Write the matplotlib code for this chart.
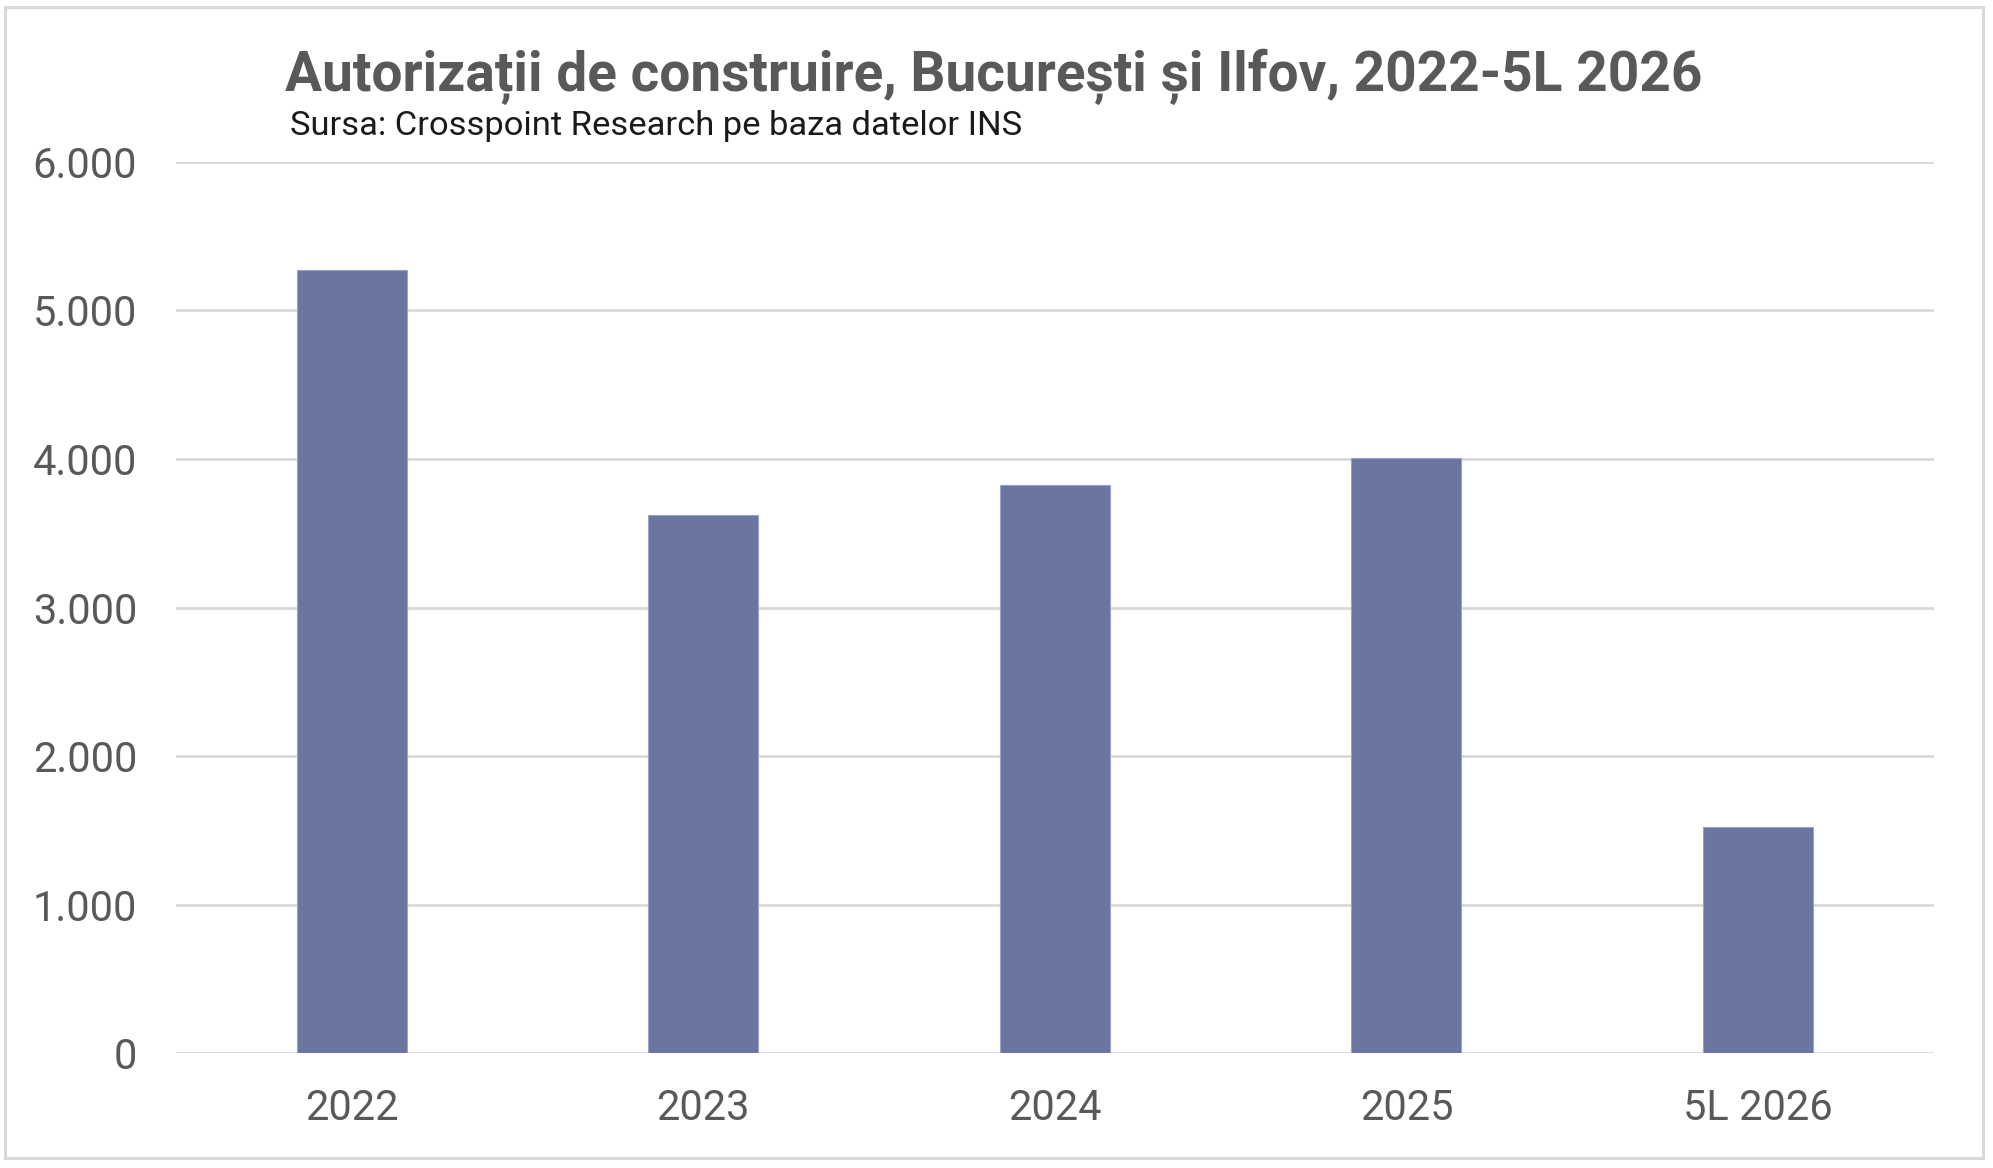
import matplotlib
matplotlib.use("Agg")
import matplotlib.pyplot as plt
from matplotlib.ticker import FuncFormatter, MultipleLocator
from matplotlib.patches import Rectangle

# data
categories = ["2022", "2023", "2024", "2025", "5L 2026"]
permits = [5272, 3625, 3827, 4007, 1524]

title = "Autorizații de construire, București și Ilfov, 2022-5L 2026"
subtitle = "Sursa: Crosspoint Research pe baza datelor INS"

BAR_COLOR = "#6a769f"
GRID_COLOR = "#d9d9d9"
TEXT_GRAY = "#595959"

plt.rcParams["font.family"] = ["Roboto", "DejaVu Sans"]


def thousands(v, pos):
    return f"{int(v):,}".replace(",", ".")


def plot():
    fig = plt.figure(figsize=(19.93, 11.68), dpi=100)
    ax = fig.add_axes([0.0883, 0.0982, 0.882, 0.7633])

    x = range(len(categories))
    ax.bar(x, permits, width=0.313, color=BAR_COLOR,
           edgecolor="#9aa3c4", linewidth=0.8, zorder=3)

    ax.set_xlim(-0.5, len(categories) - 0.5)
    ax.set_ylim(0, 6000)
    ax.yaxis.set_major_locator(MultipleLocator(1000))
    ax.yaxis.set_major_formatter(FuncFormatter(thousands))
    ax.set_xticks(list(x))
    ax.set_xticklabels(categories)

    ax.grid(axis="y", color=GRID_COLOR, linewidth=2.0, zorder=0)
    for s in ax.spines.values():
        s.set_visible(False)
    ax.tick_params(axis="both", length=0, labelsize=30, labelcolor=TEXT_GRAY)
    ax.tick_params(axis="y", pad=28)
    ax.tick_params(axis="x", pad=25)

    fig.text(0.1429, 0.922, title, fontsize=39.6, fontweight="bold",
             color=TEXT_GRAY, ha="left", va="baseline")
    fig.text(0.1455, 0.884, subtitle, fontsize=24.8, color="#1a1a1a",
             ha="left", va="baseline")

    # outer light frame
    fig.patches.append(Rectangle((0.0025, 0.0082), 0.9925, 0.986,
                                 transform=fig.transFigure, fill=False,
                                 edgecolor=GRID_COLOR, linewidth=2.2))

    fig.savefig("out.png", dpi=100, facecolor="white")


if __name__ == "__main__":
    plot()
